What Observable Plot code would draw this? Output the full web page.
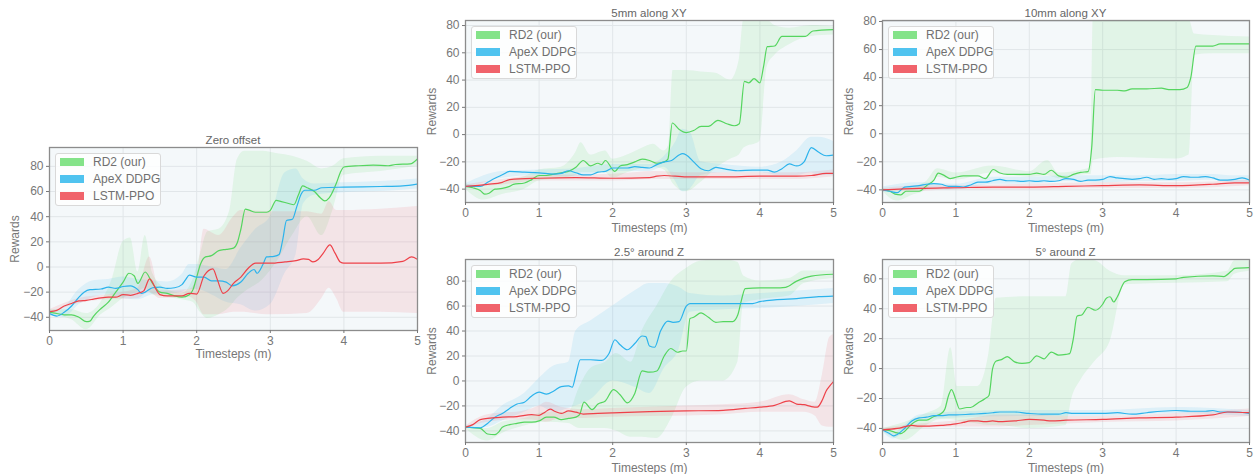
<!DOCTYPE html>
<html><head><meta charset="utf-8">
<script src="https://cdn.jsdelivr.net/npm/d3@7"></script>
<script src="https://cdn.jsdelivr.net/npm/@observablehq/plot@0.6"></script>
<style>
body{margin:0;background:#fff;font-family:"Liberation Sans",Arial,sans-serif;}
#root{position:relative;width:1258px;height:474px;overflow:hidden;}
.panel{position:absolute;}
.panel svg{display:block;overflow:visible;}
.title{position:absolute;text-align:center;font-size:11.5px;color:#666;line-height:14px;}
.legend{position:absolute;box-sizing:border-box;width:106px;height:53px;background:rgba(255,255,255,0.82);border:1px solid #d9d9d9;border-radius:3px;padding-top:0px;}
.row{position:relative;height:17px;}
.sw{position:absolute;left:4px;top:4px;width:24px;height:8px;}
.lt{position:absolute;left:37px;top:1px;font-size:12px;line-height:14px;color:#707070;white-space:nowrap;}
</style>
</head><body><div id="root"></div>
<script>
const seriesNames = ["RD2 (our)", "ApeX DDPG", "LSTM-PPO"];
const xTicks = [0, 1, 2, 3, 4, 5];
const yTicksA = [-40, -20, 0, 20, 40, 60, 80];
const yTicksB = [-40, -20, 0, 20, 40, 60];
const titles = ["Zero offset", "5mm along XY", "10mm along XY", "2.5° around Z", "5° around Z"];

// ---- Zero offset ----
const zeroRD2 = [[0,-36],[0.1,-37],[0.2,-38],[0.3,-38],[0.4,-40],[0.5,-43.5],[0.55,-43],[0.6,-39],[0.7,-33],[0.8,-28],[0.9,-20],[1.0,-12],[1.08,-5],[1.15,-7],[1.2,-13],[1.3,-4],[1.4,-13],[1.5,-20],[1.6,-21],[1.7,-23],[1.8,-24],[1.9,-22],[1.95,-18],[2.0,-8],[2.05,2],[2.12,8],[2.2,9],[2.3,13],[2.4,14],[2.5,15],[2.55,19],[2.6,30],[2.66,46],[2.72,45],[2.8,43.5],[2.95,43.5],[3.0,45],[3.08,53],[3.15,52],[3.25,50.5],[3.32,49.5],[3.38,57],[3.44,64.5],[3.5,63],[3.6,60],[3.68,55],[3.74,52.5],[3.8,55],[3.9,67],[3.95,75],[4.0,79.5],[4.2,80.5],[4.4,81],[4.6,80.5],[4.7,81.5],[4.9,82],[5.0,86]];
const zeroDDPG = [[0,-37],[0.1,-39],[0.2,-36],[0.3,-31],[0.4,-24],[0.47,-20],[0.55,-18],[0.7,-17.5],[0.8,-16],[0.9,-17],[1.0,-15.5],[1.1,-15],[1.2,-18],[1.25,-21],[1.3,-20],[1.4,-16.5],[1.5,-16],[1.6,-17],[1.7,-16.5],[1.8,-14],[1.85,-10],[1.9,-6.5],[2.0,-8],[2.1,-8],[2.2,-11],[2.3,-11],[2.4,-12],[2.48,-15],[2.6,-12],[2.7,-5],[2.78,-2],[2.82,-5],[2.9,2],[2.95,8],[3.05,8.5],[3.12,10],[3.17,22],[3.22,37],[3.3,38],[3.36,48],[3.42,58],[3.47,61],[3.6,61],[3.7,63],[4.0,63.5],[4.5,64],[4.8,64.5],[5.0,66]];
const zeroPPO = [[0,-35.5],[0.1,-34.5],[0.2,-31],[0.3,-29],[0.4,-27],[0.5,-26.5],[0.6,-25.5],[0.7,-24.5],[0.8,-24],[0.9,-24],[1.0,-22],[1.1,-22.5],[1.2,-21],[1.28,-19],[1.36,-9.5],[1.45,-18],[1.5,-22],[1.6,-23],[1.8,-23],[1.9,-21],[2.0,-21.5],[2.1,-7],[2.22,-1.5],[2.28,-10],[2.36,-21],[2.42,-19],[2.5,-13],[2.6,-8],[2.7,-1],[2.8,3],[3.0,3],[3.2,4],[3.35,5],[3.45,6.5],[3.52,6],[3.58,4],[3.65,6],[3.72,11],[3.81,17.5],[3.88,11],[3.95,4],[4.0,3],[4.5,3],[4.8,4.5],[4.92,8],[5.0,6]];
const zeroRD2Band = [[0,-38,-34],[0.3,-42,-34],[0.5,-50,-37],[0.7,-38,-28],[0.85,-32,-10],[1.0,-25,20],[1.1,-22,23],[1.2,-20,-4],[1.3,-17,25],[1.4,-22,-5],[1.6,-24,-18],[1.8,-26,-21],[1.95,-28,-10],[2.05,-36,10],[2.15,-41,28],[2.3,-38,30],[2.45,-32,45],[2.55,-25,85],[2.65,-20,92],[2.9,-10,92],[3.1,5,90],[3.3,25,88],[3.5,40,84],[3.7,25,78],[3.85,45,80],[4.0,73,86],[4.5,76,88],[5.0,80,88]];
const zeroDDPGBand = [[0,-39,-35],[0.2,-40,-32],[0.4,-30,-18],[0.6,-24,-11],[0.8,-22,-10],[1.0,-25,-8],[1.2,-26,-10],[1.4,-22,-11],[1.6,-21,-12],[1.8,-20,-6],[1.9,-18,2],[2.0,-18,2],[2.2,-22,0],[2.4,-28,-2],[2.6,-30,15],[2.8,-35,30],[3.0,-30,40],[3.2,-5,75],[3.35,10,78],[3.45,50,70],[3.6,57,66],[4.0,59,67],[4.5,60,68],[5.0,62,70]];
const zeroPPOBand = [[0,-37,-34],[0.4,-29,-25],[0.8,-26,-22],[1.2,-25,-17],[1.36,-20,8],[1.5,-25,-19],[1.9,-24,-18],[2.0,-28,-10],[2.1,-38,30],[2.3,-38,25],[2.5,-36,40],[2.6,-36,45],[3.0,-38,44],[3.5,-37,44],[3.7,-25,42],[3.8,-17,52],[3.9,-25,45],[4.0,-36,45],[4.5,-36,46],[5.0,-37,48]];

// ---- 5mm along XY ----
const xy5RD2 = [[0,-38],[0.1,-39],[0.2,-41],[0.26,-43.7],[0.32,-43],[0.4,-40],[0.5,-39.5],[0.6,-38],[0.65,-36.5],[0.8,-35.5],[0.9,-33],[1.0,-30],[1.1,-30],[1.2,-29],[1.3,-28],[1.4,-27],[1.5,-24],[1.6,-19],[1.7,-23],[1.8,-21],[1.85,-22],[1.9,-19],[2.03,-27],[2.1,-23],[2.2,-22],[2.3,-20],[2.4,-18],[2.5,-19],[2.6,-21],[2.7,-20],[2.75,-18],[2.81,8.5],[2.9,4],[3.0,1.5],[3.1,3],[3.2,6],[3.3,6],[3.43,10.5],[3.55,8],[3.65,6.5],[3.72,8],[3.79,39],[3.85,38],[3.92,41],[4.0,38],[4.05,50],[4.1,64.5],[4.2,65],[4.3,72],[4.5,72],[4.62,72],[4.72,76],[5.0,77]];
const xy5DDPG = [[0,-38],[0.2,-38],[0.3,-35],[0.4,-32],[0.5,-29.5],[0.6,-27],[0.8,-27.5],[1.0,-28],[1.2,-29],[1.3,-28.5],[1.4,-26.5],[1.5,-28],[1.6,-29.5],[1.7,-29.5],[1.8,-27.5],[1.9,-27],[2.0,-24.5],[2.2,-24.5],[2.3,-23.5],[2.4,-24],[2.5,-24.5],[2.6,-22],[2.7,-20],[2.8,-19],[2.9,-15],[2.95,-14],[3.0,-15],[3.1,-20],[3.2,-25],[3.3,-26.5],[3.4,-24],[3.5,-25],[3.7,-26.5],[3.9,-26],[4.1,-26],[4.2,-27.5],[4.3,-25],[4.4,-21.5],[4.5,-23],[4.6,-20],[4.7,-9.5],[4.8,-13],[4.9,-15.5],[5.0,-15]];
const xy5PPO = [[0,-38],[0.3,-36.5],[0.5,-35],[0.6,-33],[1.0,-32],[1.5,-31.5],[2.0,-32],[2.5,-31.5],[2.6,-30.5],[2.7,-30],[3.0,-31],[3.5,-31],[4.0,-30.5],[4.5,-30.5],[4.7,-30],[4.9,-28.5],[5.0,-28.5]];
const xy5RD2Band = [[0,-40,-36],[0.25,-48,-38],[0.5,-44,-35],[0.8,-40,-31],[1.0,-34,-26],[1.3,-32,-24],[1.5,-30,-13],[1.57,-28,-6],[1.7,-28,-15],[1.9,-28,-12],[2.0,-32,-18],[2.2,-28,-15],[2.4,-25,-10],[2.55,-24,-7],[2.7,-26,-12],[2.76,-30,-8],[2.82,-36,47],[3.0,-42,47],[3.2,-35,46],[3.4,-25,45],[3.6,-18,40],[3.72,-15,55],[3.78,-10,84],[4.0,-5,84],[4.1,50,84],[4.2,58,80],[4.4,66,78],[4.7,72,80],[5.0,73,79]];
const xy5DDPGBand = [[0,-40,-36],[0.5,-32,-27],[1.0,-30,-26],[1.5,-31,-25],[2.0,-27,-22],[2.5,-27,-22],[2.7,-24,-16],[2.85,-34,-6],[2.95,-42,4],[3.05,-40,2],[3.2,-30,-20],[3.5,-28,-22],[4.0,-28,-24],[4.3,-30,-20],[4.5,-30,-12],[4.7,-28,-2],[4.8,-30,-2],[5.0,-30,-5]];
const xy5PPOBand = [[0,-39,-37],[0.5,-37,-33],[1.0,-34,-30],[2.0,-34,-29],[2.6,-33,-27],[3.0,-33,-28],[4.0,-33,-28],[4.5,-33,-28],[5.0,-31,-26]];

// ---- 10mm along XY ----
const xy10RD2 = [[0,-40],[0.1,-41],[0.17,-43],[0.25,-43.5],[0.32,-41],[0.5,-41],[0.6,-37],[0.7,-33],[0.76,-28],[0.85,-30],[0.92,-32],[1.0,-31],[1.1,-30],[1.2,-30],[1.3,-30],[1.4,-32],[1.51,-25.5],[1.6,-28],[1.7,-29],[1.9,-29],[2.0,-29],[2.1,-28],[2.2,-29],[2.3,-26],[2.4,-30],[2.5,-31],[2.6,-29],[2.7,-27.5],[2.8,-27],[2.85,-10],[2.9,31.5],[3.0,31],[3.2,31],[3.3,30.5],[3.4,32],[3.6,32],[3.8,32.5],[3.9,31.5],[4.05,31.5],[4.15,33],[4.2,40],[4.27,62.5],[4.5,62.5],[4.6,64],[5.0,64]];
const xy10DDPG = [[0,-40],[0.1,-41],[0.2,-42],[0.3,-38],[0.4,-37.5],[0.5,-37],[0.6,-36],[0.7,-35.5],[0.8,-36],[0.9,-37.5],[1.0,-37.5],[1.1,-38],[1.2,-36.5],[1.3,-34.5],[1.4,-34.5],[1.5,-33.5],[1.6,-32.5],[1.7,-33.5],[1.8,-33.5],[1.9,-34],[2.0,-33.5],[2.1,-34],[2.2,-33.5],[2.3,-34],[2.4,-33.5],[2.5,-32],[2.6,-32.5],[2.7,-34],[2.8,-33],[2.9,-33],[3.0,-32.5],[3.1,-30.5],[3.2,-31.5],[3.3,-32],[3.4,-32.5],[3.5,-32],[3.6,-31],[3.7,-32.5],[3.8,-32],[3.9,-32.5],[4.0,-32],[4.1,-30.5],[4.2,-31],[4.3,-31],[4.4,-30.5],[4.5,-31.5],[4.6,-33],[4.7,-33],[4.8,-32.5],[4.9,-31.5],[5.0,-33]];
const xy10PPO = [[0,-40],[0.5,-39],[1.0,-38.5],[1.5,-38],[2.0,-38],[2.5,-37.5],[3.0,-37],[3.5,-36.5],[4.0,-37],[4.5,-36],[4.8,-35],[5.0,-35]];
const xy10RD2Band = [[0,-41,-39],[0.2,-48,-40],[0.4,-44,-38],[0.6,-40,-34],[0.75,-31,-25],[1.0,-33,-28],[1.5,-28,-23],[2.0,-31,-27],[2.25,-30,-19],[2.4,-32,-28],[2.8,-29,-25],[2.84,-29,-20],[2.87,-19,81],[3.2,-17,81],[4.0,-18,81],[4.18,-15,81],[4.25,56,71],[4.5,57,70],[5.0,57,69]];
const xy10DDPGBand = [[0,-42,-38],[0.5,-39,-35],[1.0,-40,-36],[1.5,-36,-31],[2.0,-36,-31],[2.5,-34,-30],[3.0,-35,-30],[3.5,-34,-30],[4.0,-34,-29],[4.5,-33,-29],[4.8,-35,-30],[5.0,-35,-30]];
const xy10PPOBand = [[0,-41,-39],[0.5,-41,-37],[1.0,-40,-37],[2.0,-40,-36],[3.0,-39,-35],[4.0,-39,-35],[5.0,-37,-33]];

// ---- 2.5° around Z ----
const rz25RD2 = [[0,-37],[0.1,-37.5],[0.2,-38],[0.3,-42.5],[0.4,-43],[0.45,-41],[0.5,-37],[0.6,-35],[0.7,-34],[0.8,-33],[0.9,-33],[1.0,-32],[1.1,-29],[1.2,-29],[1.3,-31],[1.4,-30],[1.5,-29],[1.55,-27],[1.61,-17],[1.72,-23],[1.8,-18.5],[1.9,-16],[2.01,-7],[2.1,-11],[2.2,-17.5],[2.3,-10],[2.4,8],[2.5,7],[2.6,8],[2.7,20],[2.79,26],[2.88,23],[2.95,24],[3.0,24],[3.05,50],[3.1,51],[3.2,54.5],[3.3,51],[3.4,47],[3.5,47.5],[3.63,47.5],[3.7,53],[3.75,65],[3.8,74],[4.0,74.5],[4.2,74.5],[4.35,75],[4.5,80],[4.7,84],[5.0,85.5]];
const rz25DDPG = [[0,-37],[0.2,-37.5],[0.3,-34],[0.4,-29],[0.5,-26],[0.6,-22],[0.7,-18.5],[0.8,-17],[0.9,-12],[1.0,-9],[1.1,-10.5],[1.2,-8],[1.3,-4.5],[1.4,-4],[1.45,-5],[1.5,5],[1.56,17],[1.7,17],[1.85,16.5],[1.95,22],[2.03,33],[2.1,29],[2.2,25],[2.3,30],[2.4,36],[2.45,35.5],[2.5,28],[2.57,27],[2.65,40],[2.75,48],[2.82,47],[2.9,47.5],[3.0,60],[3.05,62],[3.5,62],[3.9,62],[4.0,63.5],[4.2,65],[4.5,66],[4.8,67.5],[5.0,68]];
const rz25PPO = [[0,-37],[0.1,-35],[0.2,-31],[0.3,-30],[0.5,-29],[0.7,-28.5],[0.9,-27],[1.0,-27.5],[1.08,-25],[1.15,-22.5],[1.22,-24.5],[1.3,-26],[1.4,-24],[1.5,-25],[1.6,-26.5],[1.8,-26],[2.0,-25.5],[2.5,-24.5],[3.0,-24],[3.5,-23.5],[3.8,-22],[4.0,-21],[4.2,-19.5],[4.4,-16],[4.5,-18.5],[4.6,-19],[4.7,-20.5],[4.78,-21],[4.85,-15],[4.9,-8],[4.95,-4],[5.0,-0.5]];
const rz25RD2Band = [[0,-38,-36],[0.3,-48,-38],[0.5,-42,-33],[0.8,-36,-30],[1.1,-33,-25],[1.4,-34,-25],[1.55,-38,-5],[1.7,-38,10],[1.9,-38,15],[2.05,-40,22],[2.25,-45,15],[2.4,-45,40],[2.6,-46,60],[2.8,-30,80],[3.0,-5,90],[3.2,0,96],[3.5,0,97],[3.7,15,95],[3.78,62,84],[4.0,65,80],[4.4,68,82],[4.6,78,88],[5.0,82,88]];
const rz25DDPGBand = [[0,-38,-36],[0.3,-37,-30],[0.5,-32,-20],[0.8,-25,-10],[1.0,-20,2],[1.2,-25,12],[1.4,-22,15],[1.5,-20,40],[1.7,-15,48],[2.0,0,60],[2.3,-5,72],[2.5,-10,78],[2.7,10,78],[2.9,25,75],[3.05,55,70],[3.5,57,68],[4.0,58,70],[5.0,62,74]];
const rz25PPOBand = [[0,-38,-36],[0.3,-33,-27],[0.8,-31,-24],[1.0,-32,-20],[1.1,-33,-17],[1.3,-30,-21],[1.6,-30,-23],[2.0,-29,-22],[3.0,-28,-20],[3.5,-27,-19],[4.0,-25,-17],[4.4,-25,-11],[4.6,-25,-15],[4.75,-28,-17],[4.85,-36,5],[4.95,-37,35],[5.0,-37,37]];

// ---- 5° around Z ----
const rz5RD2 = [[0,-41],[0.1,-41.5],[0.2,-43],[0.25,-43.5],[0.3,-42],[0.4,-37],[0.5,-34.5],[0.6,-34.5],[0.7,-32],[0.8,-30],[0.85,-27],[0.9,-18],[0.94,-14],[1.0,-21],[1.05,-27],[1.15,-26],[1.2,-26],[1.3,-23],[1.4,-20],[1.45,-18],[1.5,0],[1.55,5],[1.62,6],[1.7,8],[1.8,4.5],[1.9,3.5],[2.0,4],[2.1,8.5],[2.2,6.5],[2.3,11],[2.4,9],[2.5,9.5],[2.55,10],[2.6,20],[2.65,35],[2.72,36],[2.8,41],[2.9,39],[3.0,43],[3.05,47],[3.1,48],[3.15,44.5],[3.2,48],[3.3,58],[3.4,59.5],[3.6,59.5],[4.0,60],[4.1,61],[4.5,62],[4.65,61.5],[4.75,65],[4.8,67],[5.0,67.5]];
const rz5DDPG = [[0,-41],[0.1,-43.5],[0.15,-45],[0.2,-44],[0.3,-40],[0.4,-35],[0.5,-33],[0.6,-32.5],[0.7,-31.5],[0.8,-31.5],[0.9,-31],[1.0,-31],[1.2,-30.5],[1.4,-30],[1.5,-29.5],[1.6,-29],[1.8,-29],[2.0,-30],[2.2,-30.5],[2.4,-30.5],[2.5,-29.5],[2.6,-30],[2.8,-30],[3.0,-30],[3.2,-29.5],[3.4,-30.5],[3.6,-29.5],[3.8,-28.5],[4.0,-28],[4.2,-28.5],[4.4,-28.5],[4.5,-28],[4.6,-29],[4.8,-29],[5.0,-30]];
const rz5PPO = [[0,-41],[0.2,-40],[0.4,-38],[0.5,-38.5],[0.6,-38.5],[0.8,-38],[1.0,-37],[1.1,-36],[1.2,-35],[1.3,-35],[1.4,-35.5],[1.5,-35],[1.6,-35.5],[1.8,-35],[2.0,-34],[2.2,-34.5],[2.3,-35],[2.5,-34.5],[3.0,-34],[3.5,-33],[4.0,-32.5],[4.5,-31],[4.7,-29],[5.0,-29.5]];
const rz5RD2Band = [[0,-42,-40],[0.3,-48,-36],[0.6,-38,-30],[0.8,-34,-25],[0.93,-34,14],[1.02,-35,-12],[1.3,-37,-12],[1.45,-38,10],[1.55,-38,47],[2.0,-40,48],[2.5,-38,48],[2.58,-20,70],[2.7,-8,73],[2.9,5,72],[3.1,18,65],[3.3,56,62],[4.0,57,62],[4.7,58,65],[4.8,63,72],[5.0,65,72]];
const rz5DDPGBand = [[0,-42,-40],[0.15,-47,-43],[0.3,-42,-38],[0.5,-35,-31],[1.0,-33,-29],[2.0,-32,-28],[3.0,-32,-28],[4.0,-30,-26],[5.0,-32,-28]];
const rz5PPOBand = [[0,-42,-40],[0.5,-40,-37],[1.0,-39,-35],[1.6,-39,-31],[2.0,-38,-31],[2.5,-37,-32],[3.0,-36,-32],[4.0,-35,-30],[5.0,-32,-27]];

const lineColors = ["#55d55f", "#2cb3ec", "#ee4149"];
const bandColors = ["#62da6c", "#45bdee", "#f0606a"];
const swatchColors = ["#84e389", "#4fc3ef", "#f0636b"];

const panels = [
  {left:0, top:130, width:420, height:230, ml:49, mr:3, mt:17, mb:30, y:[-50.5,95], yt:yTicksA, lo:39,
   means:[zeroRD2, zeroDDPG, zeroPPO], bands:[zeroRD2Band, zeroDDPGBand, zeroPPOBand]},
  {left:410, top:0, width:430, height:234, ml:55, mr:7, mt:20, mb:32, y:[-49.8,83.7], yt:yTicksA, lo:38,
   means:[xy5RD2, xy5DDPG, xy5PPO], bands:[xy5RD2Band, xy5DDPGBand, xy5PPOBand]},
  {left:830, top:0, width:428, height:234, ml:52, mr:9, mt:20, mb:32, y:[-49,80.7], yt:yTicksA, lo:38,
   means:[xy10RD2, xy10DDPG, xy10PPO], bands:[xy10RD2Band, xy10DDPGBand, xy10PPOBand]},
  {left:410, top:235, width:430, height:239, ml:55, mr:7, mt:24, mb:32, y:[-49.3,97.3], yt:yTicksA, lo:38,
   means:[rz25RD2, rz25DDPG, rz25PPO], bands:[rz25RD2Band, rz25DDPGBand, rz25PPOBand]},
  {left:830, top:235, width:428, height:239, ml:52, mr:9, mt:24, mb:32, y:[-49.4,72.9], yt:yTicksB, lo:38,
   means:[rz5RD2, rz5DDPG, rz5PPO], bands:[rz5RD2Band, rz5DDPGBand, rz5PPOBand]}
];

const FONT = '"Liberation Sans", Arial, sans-serif';
const root = document.getElementById("root");

panels.forEach((p, pi) => {
  const div = document.createElement("div");
  div.className = "panel";
  div.style.left = p.left + "px"; div.style.top = p.top + "px";
  div.style.width = p.width + "px"; div.style.height = p.height + "px";

  const chart = Plot.plot({
    width: p.width, height: p.height,
    marginLeft: p.ml, marginRight: p.mr, marginTop: p.mt, marginBottom: p.mb,
    style: {fontFamily: FONT, fontSize: "12px", color: "#777", background: "transparent"},
    x: {domain: [0, 5]},
    y: {domain: p.y},
    marks: [
      Plot.frame({fill: "#f4f8fa", stroke: null}),
      Plot.gridX({ticks: xTicks, stroke: "#e1e6e9", strokeOpacity: 1, strokeWidth: 1}),
      Plot.gridY({ticks: p.yt, stroke: "#e1e6e9", strokeOpacity: 1, strokeWidth: 1}),
      ...p.bands.map((b, i) => Plot.areaY(b, {x: d => d[0], y1: d => d[1], y2: d => d[2],
        fill: bandColors[i], fillOpacity: 0.13, curve: "monotone-x", clip: true})),
      ...p.means.map((m, i) => Plot.lineY(m, {x: d => d[0], y: d => d[1],
        stroke: lineColors[i], strokeWidth: 1.2, curve: "monotone-x", clip: true})),
      Plot.frame({stroke: "#8c8c8c", strokeWidth: 1.3}),
      Plot.axisX({ticks: xTicks, tickSize: 3, tickPadding: 3, tickFormat: d => String(d), fontSize: 12,
        color: "#777", label: "Timesteps (m)", labelAnchor: "center", labelArrow: "none"}),
      Plot.axisY({ticks: p.yt, tickSize: 3, tickPadding: 3, fontSize: 12, color: "#777",
        label: "Rewards", labelAnchor: "center", labelArrow: "none", labelOffset: p.lo})
    ]
  });
  div.appendChild(chart);

  const t = document.createElement("div");
  t.className = "title";
  t.textContent = titles[pi];
  t.style.left = p.ml + "px";
  t.style.width = (p.width - p.ml - p.mr) + "px";
  t.style.top = (p.mt - 14) + "px";
  div.appendChild(t);

  const lg = document.createElement("div");
  lg.className = "legend";
  lg.style.left = (p.ml + 6) + "px";
  lg.style.top = (p.mt + 6) + "px";
  seriesNames.forEach((n, i) => {
    const r = document.createElement("div"); r.className = "row";
    const s = document.createElement("div"); s.className = "sw"; s.style.background = swatchColors[i];
    const l = document.createElement("div"); l.className = "lt"; l.textContent = n;
    r.appendChild(s); r.appendChild(l); lg.appendChild(r);
  });
  div.appendChild(lg);
  root.appendChild(div);
});
</script>
</body></html>
